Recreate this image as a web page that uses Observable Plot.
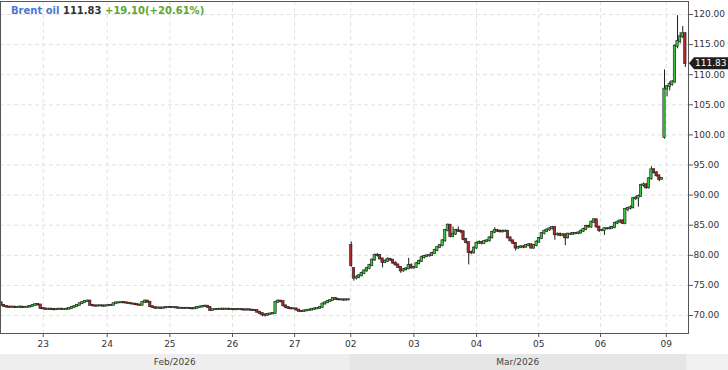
<!DOCTYPE html>
<html><head><meta charset="utf-8">
<script src="https://cdn.jsdelivr.net/npm/d3@7"></script>
<script src="https://cdn.jsdelivr.net/npm/@observablehq/plot@0.6"></script>
<style>
body{margin:0;background:#fff;}
#wrap{position:relative;width:728px;height:370px;overflow:hidden;font-family:"DejaVu Sans",sans-serif;}
#wrap svg{position:absolute;left:0;top:0;}
#hdr{position:absolute;left:11px;top:5px;font-size:10px;line-height:12px;font-weight:bold;white-space:pre;z-index:2;}
</style></head><body><div id="wrap"><div id="hdr"></div></div>
<script>
const title = "Brent oil";
const lastText = "111.83";
const changeText = "+19.10(+20.61%)";

const opens = [72.1,
71.7,71.5,71.4,71.35,71.4,71.3,71.35,71.4,71.3,71.35,
71.4,71.5,71.65,71.8,71.75,71.15,71.1,71.0,71.05,71.0,
70.95,71.0,71.05,71.0,71.0,71.05,71.15,71.35,71.5,71.7,
71.95,72.15,72.3,72.4,71.7,71.6,71.55,71.6,71.6,71.55,
71.6,71.65,71.7,71.95,72.1,72.1,72.15,72.1,72.05,71.95,
71.9,71.8,71.75,71.7,72.15,72.4,72.2,71.45,71.3,71.2,
71.25,71.2,71.25,71.3,71.35,71.3,71.3,71.25,71.2,71.2,
71.15,71.2,71.15,71.1,71.2,71.3,71.4,71.5,71.55,71.35,
70.85,70.95,71.0,71.0,71.05,71.0,71.05,71.0,71.0,70.95,
71.0,71.0,70.95,70.9,70.95,70.9,70.85,70.8,70.55,70.3,
70.1,70.05,70.2,70.25,70.35,72.2,72.4,72.3,71.6,71.3,
71.15,71.1,71.1,70.9,70.7,70.65,70.75,70.8,70.9,71.0,
71.1,71.15,71.3,71.9,72.1,72.3,72.5,72.8,72.7,72.6,
72.6,72.55,72.6,
81.6,77.8,76.2,76.35,76.6,77.0,77.4,77.8,78.3,79.2,
80.0,79.95,79.4,78.8,79.0,79.3,79.2,78.7,78.4,78.0,
77.4,77.6,77.75,78.3,77.9,78.0,78.6,79.0,79.6,79.8,
79.9,80.0,80.3,80.8,81.3,81.6,82.4,84.1,85.0,83.1,
83.5,84.1,84.0,83.9,82.6,82.1,80.5,80.4,81.2,82.0,
82.1,82.0,82.3,82.4,82.9,83.8,84.1,84.0,83.9,84.0,
84.0,82.9,82.4,82.0,81.2,81.3,81.4,81.35,81.6,81.75,
81.2,81.6,82.2,82.8,83.6,84.0,84.2,84.4,84.6,83.4,
83.5,83.3,83.4,82.9,83.5,83.5,83.6,83.6,83.7,84.0,
84.3,84.8,84.7,85.5,85.9,84.7,84.1,84.1,84.4,84.4,
84.5,84.6,85.3,85.5,85.7,85.3,87.6,87.8,87.9,89.4,
89.5,89.8,91.6,91.7,91.2,92.7,94.2,93.7,93.2,92.6,
99.6,107.6,108.0,108.4,108.8,114.7,115.5,116.3,116.8];

const closes = [
71.7,71.5,71.4,71.35,71.4,71.3,71.35,71.4,71.3,71.35,
71.4,71.5,71.65,71.8,71.75,71.15,71.1,71.0,71.05,71.0,
70.95,71.0,71.05,71.0,71.0,71.05,71.15,71.35,71.5,71.7,
71.95,72.15,72.3,72.4,71.7,71.6,71.55,71.6,71.6,71.55,
71.6,71.65,71.7,71.95,72.1,72.1,72.15,72.1,72.05,71.95,
71.9,71.8,71.75,71.7,72.15,72.4,72.2,71.45,71.3,71.2,
71.25,71.2,71.25,71.3,71.35,71.3,71.3,71.25,71.2,71.2,
71.15,71.2,71.15,71.1,71.2,71.3,71.4,71.5,71.55,71.35,
70.85,70.95,71.0,71.0,71.05,71.0,71.05,71.0,71.0,70.95,
71.0,71.0,70.95,70.9,70.95,70.9,70.85,70.8,70.55,70.3,
70.1,70.05,70.2,70.25,70.35,72.2,72.4,72.3,71.6,71.3,
71.15,71.1,71.1,70.9,70.7,70.65,70.75,70.8,70.9,71.0,
71.1,71.15,71.3,71.9,72.1,72.3,72.5,72.8,72.7,72.6,
72.6,72.55,72.6,72.6,
78.3,76.2,76.35,76.6,77.0,77.4,77.8,78.3,79.2,80.0,
79.95,79.4,78.8,79.0,79.3,79.2,78.7,78.4,78.0,77.4,
77.6,77.75,78.3,77.9,78.0,78.6,79.0,79.6,79.8,79.9,
80.0,80.3,80.8,81.3,81.6,82.4,84.1,85.0,83.1,83.5,
84.1,84.0,83.9,82.6,82.1,80.5,80.4,81.2,82.0,82.1,
82.0,82.3,82.4,82.9,83.8,84.1,84.0,83.9,84.0,84.0,
82.9,82.4,82.0,81.2,81.3,81.4,81.35,81.6,81.75,81.2,
81.6,82.2,82.8,83.6,84.0,84.2,84.4,84.6,83.4,83.5,
83.3,83.4,82.9,83.5,83.5,83.6,83.6,83.7,84.0,84.3,
84.8,84.7,85.5,85.9,84.7,84.1,84.1,84.4,84.4,84.5,
84.6,85.3,85.5,85.7,85.3,87.6,87.8,87.9,89.4,89.5,
89.8,91.6,91.7,91.2,92.7,94.2,93.7,93.2,92.6,92.73,
107.6,108.0,108.4,108.8,114.7,115.5,116.3,116.8,111.83];

const highs = [
72.2,71.8,71.6,71.55,71.55,71.5,71.5,71.55,71.5,71.5,
71.55,71.65,71.8,71.9,71.9,71.8,71.3,71.2,71.2,71.2,
71.15,71.15,71.2,71.2,71.15,71.2,71.3,71.45,71.6,71.8,
72.05,72.25,72.4,72.55,72.45,71.8,71.7,71.75,71.75,71.7,
71.75,71.8,71.85,72.05,72.2,72.25,72.3,72.25,72.2,72.15,
72.05,72.0,71.9,71.85,72.25,72.55,72.5,72.3,71.6,71.4,
71.4,71.35,71.4,71.45,71.5,71.45,71.45,71.4,71.35,71.35,
71.3,71.35,71.3,71.25,71.35,71.45,71.55,71.65,71.7,71.65,
71.4,71.1,71.15,71.15,71.2,71.2,71.2,71.2,71.15,71.1,
71.15,71.15,71.1,71.05,71.1,71.05,71.0,70.95,70.9,70.65,
70.4,70.25,70.35,70.4,70.5,72.35,72.55,72.5,72.4,71.7,
71.4,71.25,71.25,71.2,71.0,70.8,70.9,70.95,71.05,71.15,
71.25,71.3,71.45,72.05,72.25,72.45,72.65,72.95,72.9,72.8,
72.75,72.7,72.75,72.75,
82.2,77.9,76.6,76.8,77.2,77.6,78.0,78.5,79.4,80.2,
80.3,80.1,79.5,79.3,79.6,79.5,79.3,78.9,78.5,78.1,
77.8,77.9,79.5,78.6,78.2,78.8,79.2,79.8,80.0,80.1,
80.2,80.5,81.0,81.5,81.8,82.6,84.3,85.2,85.1,84.7,
84.3,84.7,84.2,84.0,82.8,82.2,80.7,81.4,82.2,82.4,
82.3,82.5,82.6,83.1,84.0,84.6,84.3,84.2,84.2,84.2,
84.1,83.0,82.5,82.1,81.5,81.6,81.6,81.8,81.95,81.9,
81.8,82.4,83.0,83.8,84.2,84.4,84.6,84.8,84.7,83.7,
83.7,83.6,83.5,83.7,83.7,83.8,83.8,83.9,84.2,84.5,
85.0,85.0,85.7,86.1,86.0,84.8,84.3,84.6,84.6,84.7,
84.8,85.5,85.7,85.9,85.9,87.8,88.0,88.2,89.6,89.8,
90.0,91.8,92.0,91.9,92.9,94.7,94.4,93.9,93.3,92.9,
110.8,108.2,108.8,109.0,115.0,119.8,117.0,118.0,117.0];

const lows = [
71.6,71.4,71.25,71.2,71.2,71.15,71.2,71.2,71.15,71.2,
71.25,71.3,71.4,71.55,71.6,71.0,70.95,70.85,70.9,70.85,
70.8,70.85,70.9,70.85,70.85,70.9,70.95,71.05,71.25,71.4,
71.6,71.85,72.05,72.2,71.6,71.45,71.4,71.45,71.45,71.4,
71.45,71.5,71.55,71.6,71.85,71.95,72.0,71.95,71.9,71.85,
71.8,71.7,71.6,71.55,71.6,72.05,72.1,71.3,71.15,71.05,
71.1,71.05,71.1,71.15,71.2,71.15,71.15,71.1,71.05,71.05,
71.0,71.05,71.0,70.95,71.0,71.1,71.2,71.3,71.4,71.25,
70.7,70.75,70.85,70.85,70.9,70.85,70.9,70.85,70.85,70.8,
70.8,70.85,70.8,70.75,70.75,70.75,70.7,70.65,70.4,70.1,
69.8,69.75,69.9,70.05,70.15,70.25,72.05,72.1,71.4,71.1,
71.0,70.95,70.95,70.75,70.55,70.5,70.55,70.65,70.7,70.8,
70.9,71.0,71.05,71.2,71.8,72.0,72.2,72.4,72.55,72.45,
72.45,72.4,72.45,72.45,
78.0,75.7,75.9,76.1,76.4,76.8,77.2,77.6,78.1,79.0,
79.7,79.2,77.9,78.6,78.8,79.0,78.5,78.2,77.8,77.0,
77.2,77.4,77.6,77.7,77.7,77.8,78.4,78.8,79.4,79.6,
79.7,79.8,80.1,80.6,81.1,81.4,82.2,83.9,82.9,82.9,
83.3,83.8,83.6,82.4,81.9,78.4,80.1,80.2,81.0,81.8,
81.7,81.8,82.1,82.2,82.7,83.6,83.8,83.7,83.7,83.8,
82.7,82.2,81.8,80.7,81.0,81.1,81.1,81.2,81.4,81.0,
81.0,81.4,82.0,82.6,83.4,83.8,84.0,84.2,82.5,83.2,
83.1,83.1,81.6,82.7,83.3,83.3,83.4,83.4,83.5,83.8,
84.1,84.5,84.5,85.3,84.5,83.8,83.9,83.3,84.2,84.2,
84.3,84.4,85.1,85.3,85.1,85.1,87.2,87.5,87.7,89.1,
88.0,89.6,91.3,91.0,91.0,92.5,93.5,93.0,92.2,92.5,
99.3,106.3,107.3,108.1,108.5,114.3,115.1,116.0,111.2];

const xTickAt = [16, 40.5, 64.5, 88.5, 112.3, 133.8, 158, 182, 205.8, 229.5, 254.7];
const xTickLabels = ["23","24","25","26","27","02","03","04","05","06","09"];
const yTicks = [70,75,80,85,90,95,100,105,110,115,120];
const months = ["Feb/2026","Mar/2026"];
const monthFirst = [0, 134];
const monthLast = [133, 262];

const candles = closes.map((c,i)=>({i, open:opens[i], high:highs[i], low:lows[i], close:c}));
const labelMap = new Map(xTickAt.map((t,k)=>[t, xTickLabels[k]]));

const UP = "#3cc43c", DOWN = "#b3262a", EDGE = "#1c1c1c";

const chart = Plot.plot({
  width:728, height:370,
  marginLeft:0, marginRight:40, marginTop:1, marginBottom:37,
  style:{fontFamily:"DejaVu Sans", fontSize:"9px", color:"#333", background:"transparent", overflow:"visible"},
  x:{type:"linear", domain:[-0.38, 263.2], label:null},
  y:{domain:[67.01, 122.16], label:null},
  marks:[
    Plot.gridY(yTicks,{stroke:"#e2e2e2", strokeOpacity:1, strokeDasharray:"4,3"}),
    Plot.gridX(xTickAt,{stroke:"#e2e2e2", strokeOpacity:1, strokeDasharray:"4,3"}),
    Plot.ruleX(candles,{x:"i", y1:"low", y2:"high", stroke:EDGE, strokeWidth:1}),
    Plot.rect(candles,{x1:d=>d.i-0.45, x2:d=>d.i+0.45, y1:"open", y2:"close",
      fill:d=>d.close>=d.open?UP:DOWN, stroke:EDGE, strokeWidth:0.6, insetTop:-0.5, insetBottom:-0.5}),
    Plot.axisX(xTickAt,{anchor:"bottom", label:null, tickSize:4, tickPadding:3, tickFormat:d=>labelMap.get(d), fill:"#333", stroke:"#555", fontSize:9}),
    Plot.axisY(yTicks,{anchor:"right", label:null, tickSize:4, tickPadding:1, tickFormat:d=>d.toFixed(2), fill:"#333", stroke:"#555", fontSize:9}),
    Plot.frame({stroke:"#555"})
  ]
});

const wrap = document.getElementById("wrap");
wrap.appendChild(chart);

const hdr = document.getElementById("hdr");
hdr.innerHTML = `<span style="color:#4a78d2">${title}</span> <span style="color:#333">${lastText}</span> <span style="color:#5ca634">${changeText}</span>`;

const sx = chart.scale("x"), sy = chart.scale("y");
const svg = d3.select(chart);
// bottom month band
const band = svg.insert("g", ":first-child");
band.append("rect").attr("x",0).attr("y",354).attr("width",728).attr("height",16).attr("fill","#f0f0f0");
months.forEach((m,k)=>{
  const x0 = Math.max(0, sx.apply(monthFirst[k]-0.5)), x1 = Math.min(687, sx.apply(monthLast[k]+0.5));
  band.append("rect").attr("x",x0).attr("y",354).attr("width",x1-x0).attr("height",16)
    .attr("fill", k===1 ? "#e6e6e6" : "#eeeeee");
  svg.append("text").attr("x",(x0+x1)/2).attr("y",365).attr("text-anchor","middle")
    .attr("font-family","DejaVu Sans").attr("font-size",9).attr("fill","#444").text(m);
});
// last price tag
const lastY = sy.apply(closes[closes.length-1]);
const tag = svg.append("g");
tag.append("path").attr("d",`M689,${lastY} L694,${lastY-6} L728,${lastY-6} L728,${lastY+6} L694,${lastY+6} Z`).attr("fill","#1e1e1e");
tag.append("text").attr("x",695).attr("y",lastY+3.3).attr("text-anchor","start").attr("font-family","DejaVu Sans").attr("font-size",9)
  .attr("fill","#fff").text(closes[closes.length-1].toFixed(2));
</script>
</body></html>
